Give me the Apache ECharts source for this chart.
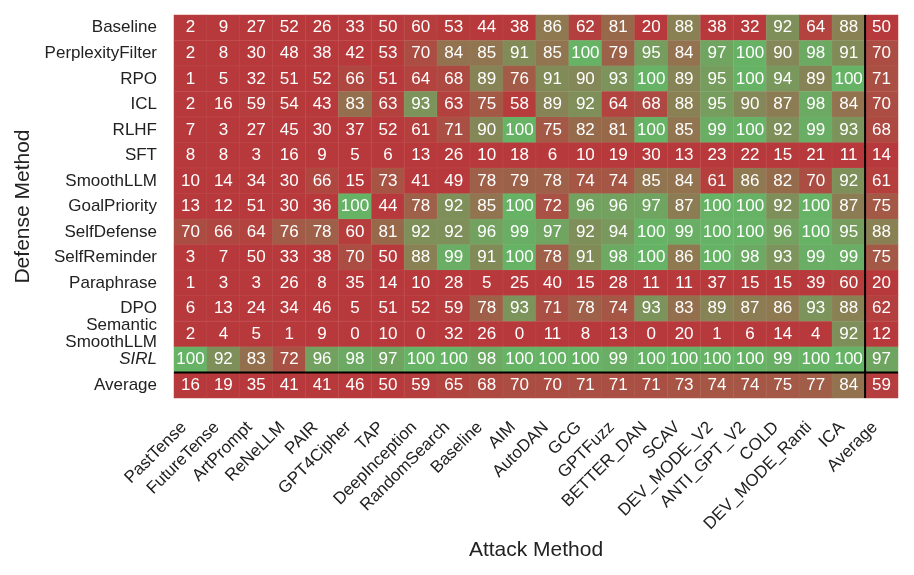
<!DOCTYPE html>
<html>
<head>
<meta charset="utf-8">
<script src="https://cdn.jsdelivr.net/npm/echarts@6/dist/echarts.min.js"></script>
<style>
    html, body { margin: 0; padding: 0; background: #fff; }
    #main { width: 914px; height: 575px; }
</style>
</head>
<body>
<div id="main"></div>
<script>
// 攻击方法 (列)
var attacks = ['PastTense', 'FutureTense', 'ArtPrompt', 'ReNeLLM', 'PAIR', 'GPT4Cipher', 'TAP',
    'DeepInception', 'RandomSearch', 'Baseline', 'AIM', 'AutoDAN', 'GCG', 'GPTFuzz', 'BETTER_DAN',
    'SCAV', 'DEV_MODE_V2', 'ANTI_GPT_V2', 'COLD', 'DEV_MODE_Ranti', 'ICA', 'Average'];

// 防御方法 (行)
var defenses = ['Baseline', 'PerplexityFilter', 'RPO', 'ICL', 'RLHF', 'SFT', 'SmoothLLM',
    'GoalPriority', 'SelfDefense', 'SelfReminder', 'Paraphrase', 'DPO', 'Semantic\nSmoothLLM',
    'SIRL', 'Average'];

// 每行数值, 最后一个是 Average 列
var rowBaseline         = [2, 9, 27, 52, 26, 33, 50, 60, 53, 44, 38, 86, 62, 81, 20, 88, 38, 32, 92, 64, 88, 50];
var rowPerplexityFilter = [2, 8, 30, 48, 38, 42, 53, 70, 84, 85, 91, 85, 100, 79, 95, 84, 97, 100, 90, 98, 91, 70];
var rowRPO              = [1, 5, 32, 51, 52, 66, 51, 64, 68, 89, 76, 91, 90, 93, 100, 89, 95, 100, 94, 89, 100, 71];
var rowICL              = [2, 16, 59, 54, 43, 83, 63, 93, 63, 75, 58, 89, 92, 64, 68, 88, 95, 90, 87, 98, 84, 70];
var rowRLHF             = [7, 3, 27, 45, 30, 37, 52, 61, 71, 90, 100, 75, 82, 81, 100, 85, 99, 100, 92, 99, 93, 68];
var rowSFT              = [8, 8, 3, 16, 9, 5, 6, 13, 26, 10, 18, 6, 10, 19, 30, 13, 23, 22, 15, 21, 11, 14];
var rowSmoothLLM        = [10, 14, 34, 30, 66, 15, 73, 41, 49, 78, 79, 78, 74, 74, 85, 84, 61, 86, 82, 70, 92, 61];
var rowGoalPriority     = [13, 12, 51, 30, 36, 100, 44, 78, 92, 85, 100, 72, 96, 96, 97, 87, 100, 100, 92, 100, 87, 75];
var rowSelfDefense      = [70, 66, 64, 76, 78, 60, 81, 92, 92, 96, 99, 97, 92, 94, 100, 99, 100, 100, 96, 100, 95, 88];
var rowSelfReminder     = [3, 7, 50, 33, 38, 70, 50, 88, 99, 91, 100, 78, 91, 98, 100, 86, 100, 98, 93, 99, 99, 75];
var rowParaphrase       = [1, 3, 3, 26, 8, 35, 14, 10, 28, 5, 25, 40, 15, 28, 11, 11, 37, 15, 15, 39, 60, 20];
var rowDPO              = [6, 13, 24, 34, 46, 5, 51, 52, 59, 78, 93, 71, 78, 74, 93, 83, 89, 87, 86, 93, 88, 62];
var rowSemanticSmooth   = [2, 4, 5, 1, 9, 0, 10, 0, 32, 26, 0, 11, 8, 13, 0, 20, 1, 6, 14, 4, 92, 12];
var rowSIRL             = [100, 92, 83, 72, 96, 98, 97, 100, 100, 98, 100, 100, 100, 99, 100, 100, 100, 100, 99, 100, 100, 97];
var rowAverage          = [16, 19, 35, 41, 41, 46, 50, 59, 65, 68, 70, 70, 71, 71, 71, 73, 74, 74, 75, 77, 84, 59];

var rows = [rowBaseline, rowPerplexityFilter, rowRPO, rowICL, rowRLHF, rowSFT, rowSmoothLLM,
    rowGoalPriority, rowSelfDefense, rowSelfReminder, rowParaphrase, rowDPO, rowSemanticSmooth,
    rowSIRL, rowAverage];

var heatData = [];
rows.forEach(function (r, yi) {
    r.forEach(function (v, xi) {
        heatData.push([xi, yi, v]);
    });
});

// 红 -> 绿, 50 以下基本是红色
var red = [184, 57, 59], green = [102, 179, 102];
var colorStops = [];
for (var s = 0; s <= 20; s++) {
    var v = s * 5;
    var t = v <= 50 ? 0 : Math.pow((v - 50) / 50, 2);
    var c = red.map(function (a, k) { return Math.round(a + (green[k] - a) * t); });
    colorStops.push('rgb(' + c.join(',') + ')');
}

var nCol = attacks.length, nRow = defenses.length;
var font = 'Liberation Sans, Arial, sans-serif';

var chart = echarts.init(document.getElementById('main'));
var option = {
    animation: false,
    grid: { left: 174, right: 16, top: 15, bottom: 177 },
    xAxis: [{
        type: 'category',
        data: attacks,
        position: 'bottom',
        axisLine: { show: false },
        axisTick: { show: false },
        splitLine: { show: false },
        axisLabel: {
            rotate: 45, margin: 20, fontSize: 17, color: '#222', fontFamily: font, interval: 0,
            formatter: function (v) { return v + '  '; }  // 标签整体往左下挪一点
        },
        name: 'Attack Method',
        nameLocation: 'middle',
        nameGap: 141,
        nameTextStyle: { fontSize: 21, color: '#222', fontFamily: font }
    }, {
        type: 'value', min: 0, max: nCol, show: false
    }],
    yAxis: [{
        type: 'category',
        data: defenses,
        inverse: true,
        axisLine: { show: false },
        axisTick: { show: false },
        splitLine: { show: false },
        axisLabel: {
            margin: 17, fontSize: 17, color: '#222', fontFamily: font, lineHeight: 17,
            formatter: function (v) { return v === 'SIRL' ? '{it|SIRL}' : v; },
            rich: { it: { fontStyle: 'italic', fontSize: 17, color: '#222', fontFamily: font } }
        },
        name: 'Defense Method',
        nameLocation: 'middle',
        nameGap: 140,
        nameRotate: 90,
        nameTextStyle: { fontSize: 21, color: '#222', fontFamily: font }
    }, {
        type: 'value', min: 0, max: nRow, inverse: true, show: false
    }],
    visualMap: {
        show: false,
        min: 0,
        max: 100,
        seriesIndex: 0,
        inRange: { color: colorStops }
    },
    series: [{
        type: 'heatmap',
        data: heatData,
        itemStyle: { borderColor: 'rgba(255,255,255,0.05)', borderWidth: 1 },
        label: { show: true, color: '#fff', fontSize: 17, fontFamily: font },
        emphasis: { disabled: true }
    }, {
        // Average 列前的竖线
        type: 'line',
        xAxisIndex: 1, yAxisIndex: 1,
        data: [[nCol - 1, 0], [nCol - 1, nRow]],
        symbol: 'none',
        silent: true,
        lineStyle: { color: '#000', width: 2 },
        z: 10
    }, {
        // Average 行前的横线
        type: 'line',
        xAxisIndex: 1, yAxisIndex: 1,
        data: [[0, nRow - 1], [nCol, nRow - 1]],
        symbol: 'none',
        silent: true,
        lineStyle: { color: '#000', width: 2 },
        z: 10
    }]
};
chart.setOption(option);
</script>
</body>
</html>
